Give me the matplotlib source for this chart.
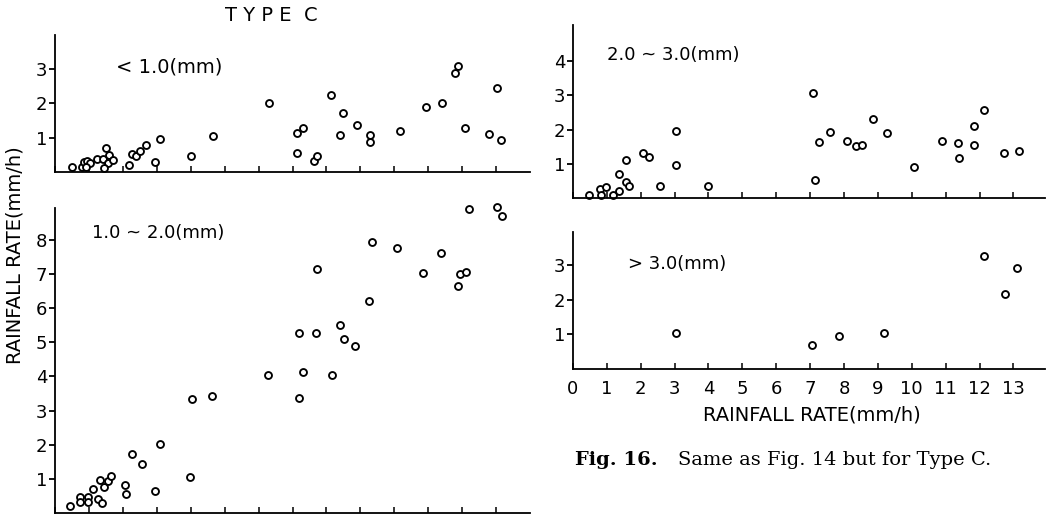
import matplotlib
matplotlib.use('Agg')
import matplotlib.pyplot as plt

# Type C: rainfall rate (mm/h) vs rainfall rate, one panel per class (mm)
# < 1.0 (mm)
lt10_x = [0.50, 0.80, 0.85, 0.95, 1.02, 0.92, 1.25, 1.40, 1.50, 1.60, 1.55,
          1.72, 1.45, 2.18, 2.28, 2.38, 2.50, 2.68, 2.96, 3.10, 4.00, 4.65,
          6.30, 7.14, 7.14, 7.30, 7.62, 7.73, 8.14, 8.39, 8.50, 8.91, 9.29,
          9.29, 10.17, 10.92, 11.40, 11.80, 11.89, 12.09, 12.78, 13.03, 13.14]
lt10_y = [0.15, 0.16, 0.28, 0.32, 0.26, 0.15, 0.38, 0.38, 0.70, 0.50, 0.26,
          0.34, 0.12, 0.20, 0.52, 0.46, 0.62, 0.80, 0.29, 0.97, 0.46, 1.05,
          2.02, 0.56, 1.14, 1.29, 0.32, 0.47, 2.25, 1.07, 1.71, 1.37, 1.09,
          0.88, 1.19, 1.90, 2.00, 2.88, 3.08, 1.27, 1.12, 2.44, 0.93]

# 1.0 ~ 2.0 (mm)
r1020_x = [0.45, 0.73, 0.73, 0.97, 0.97, 1.12, 1.26, 1.38, 1.32, 1.45, 1.55,
           1.66, 2.05, 2.09, 2.27, 2.57, 2.96, 3.10, 3.97, 4.04, 4.63, 6.27,
           7.19, 7.19, 7.30, 7.72, 7.68, 8.16, 8.39, 8.51, 8.83, 9.24, 9.35,
           10.09, 10.84, 11.37, 11.88, 11.93, 12.10, 12.20, 13.02, 13.17]
r1020_y = [0.20, 0.47, 0.31, 0.47, 0.32, 0.71, 0.41, 0.30, 0.95, 0.75, 0.94,
           1.07, 0.81, 0.56, 1.73, 1.44, 0.65, 2.02, 1.05, 3.34, 3.44, 4.03,
           5.26, 3.36, 4.14, 7.15, 5.26, 4.04, 5.52, 5.09, 4.90, 6.22, 7.93,
           7.78, 7.02, 7.61, 6.66, 6.99, 7.07, 8.90, 8.98, 8.70]

# 2.0 ~ 3.0 (mm)
r2030_x = [0.47, 0.80, 0.83, 0.97, 1.17, 1.35, 1.35, 1.56, 1.56, 1.64, 2.07,
           2.24, 2.58, 3.03, 3.05, 3.99, 7.09, 7.15, 7.25, 7.59, 8.10, 8.35,
           8.52, 8.85, 9.28, 10.08, 10.89, 11.37, 11.39, 11.85, 11.85, 12.12,
           12.73, 13.18]
r2030_y = [0.09, 0.27, 0.09, 0.33, 0.10, 0.20, 0.70, 1.10, 0.46, 0.36, 1.31,
           1.19, 0.37, 1.97, 0.98, 0.37, 3.06, 0.54, 1.64, 1.92, 1.66, 1.52,
           1.56, 2.31, 1.90, 0.90, 1.68, 1.61, 1.17, 2.11, 1.55, 2.56,
           1.32, 1.38]

# > 3.0 (mm)
gt30_x = [3.03, 7.07, 7.86, 9.17, 12.14, 12.75, 13.11]
gt30_y = [1.04, 0.70, 0.95, 1.04, 3.26, 2.18, 2.92]

x_ticks = list(range(0, 14))
x_tick_labels = [str(t) for t in x_ticks]

NARROW = ['Liberation Sans Narrow', 'DejaVu Sans']


def style_axes(ax, xmax, ymax, yticks, show_xlabels=False):
    ax.set_xlim(0, xmax)
    ax.set_ylim(0, ymax)
    for side in ['top', 'right']:
        ax.spines[side].set_visible(False)
    for side in ['left', 'bottom']:
        ax.spines[side].set_linewidth(1.3)
    ax.set_xticks(x_ticks)
    if show_xlabels:
        ax.set_xticklabels(x_tick_labels)
    else:
        ax.set_xticklabels([])
    ax.set_yticks(yticks)
    ax.set_yticklabels([str(t) for t in yticks])
    ax.tick_params(axis='x', direction='in', length=4, width=1.1, pad=8,
                   labelsize=13)
    ax.tick_params(axis='y', direction='out', length=4, width=1.3, pad=1.5,
                   labelsize=13)
    for lbl in ax.get_xticklabels() + ax.get_yticklabels():
        lbl.set_fontfamily(NARROW)


def scatter(ax, xs, ys):
    ax.plot(xs, ys, 'o', ms=5.0, mfc='white', mec='black', mew=1.35,
            clip_on=False)


def main():
    plt.rcParams['font.family'] = ['DejaVu Sans']
    fig = plt.figure(figsize=(10.62, 5.22), dpi=100)

    ax1 = fig.add_axes([0.0518, 0.6705, 0.4473, 0.2625])
    ax2 = fig.add_axes([0.0518, 0.0176, 0.4473, 0.5833])
    ax3 = fig.add_axes([0.5395, 0.6201, 0.4444, 0.3320])
    ax4 = fig.add_axes([0.5395, 0.2931, 0.4444, 0.2630])

    scatter(ax1, lt10_x, lt10_y)
    scatter(ax2, r1020_x, r1020_y)
    scatter(ax3, r2030_x, r2030_y)
    scatter(ax4, gt30_x, gt30_y)

    style_axes(ax1, 14.0, 4.0, [1, 2, 3])
    style_axes(ax2, 14.0, 8.93, [1, 2, 3, 4, 5, 6, 7, 8])
    style_axes(ax3, 13.93, 5.04, [1, 2, 3, 4])
    style_axes(ax4, 13.93, 3.97, [1, 2, 3], show_xlabels=True)

    # class labels
    fig.text(0.109, 0.8726, '< 1.0(mm)', fontsize=14, va='center')
    fig.text(0.0866, 0.5536, '1.0 ~ 2.0(mm)', fontsize=13, va='center')
    fig.text(0.5716, 0.8946, '2.0 ~ 3.0(mm)', fontsize=13, va='center')
    fig.text(0.5913, 0.4952, '> 3.0(mm)', fontsize=13, va='center')

    fig.text(0.2552, 0.9703, 'T Y P E  C', fontsize=14, ha='center',
             va='center')
    fig.text(0.0141, 0.512, 'RAINFALL RATE(mm/h)', fontsize=14,
             rotation=90, ha='center', va='center')
    fig.text(0.7643, 0.2050, 'RAINFALL RATE(mm/h)', fontsize=14,
             ha='center', va='center')

    # caption
    fig.text(0.5414, 0.1188, 'Fig. 16.', fontsize=14, fontweight='bold',
             family='DejaVu Serif', va='center')
    fig.text(0.6384, 0.1188, 'Same as Fig. 14 but for Type C.', fontsize=14,
             family='DejaVu Serif', va='center')

    fig.savefig('out.png', dpi=100)
    plt.close(fig)


if __name__ == "__main__":
    main()
